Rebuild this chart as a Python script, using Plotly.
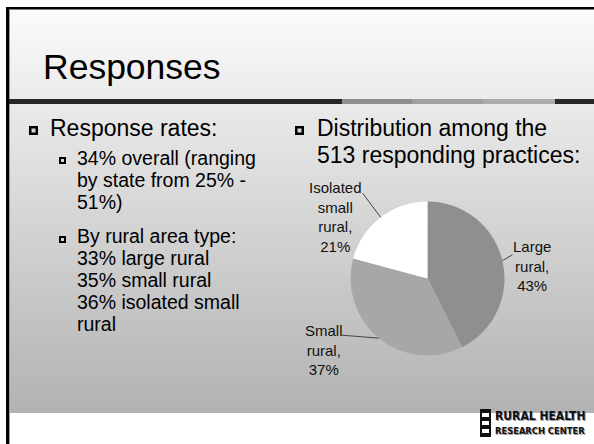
import math
import plotly.graph_objects as go

W, H = 594, 444

# ---------------- data ----------------
categories = ["Large rural", "Small rural", "Isolated small rural"]
shares = [43, 37, 21]
label_lines = ["Large<br>rural,", "Small<br>rural,", "Isolated<br>small<br>rural,"]
slice_colors = ["#8f8f8f", "#a7a7a7", "#ffffff"]

title_text = "Responses"
left_main = "Response rates:"
left_sub1 = ["34% overall (ranging", "by state from 25% -", "51%)"]
left_sub2 = ["By rural area type:", "33% large rural", "35% small rural",
             "36% isolated small", "rural"]
right_main = ["Distribution among the", "513 responding practices:"]
logo_lines = ["RURAL HEALTH", "RESEARCH CENTER"]

FONT = "Liberation Sans, Arial, sans-serif"


def X(px):
    return px / W


def Y(py):
    return 1 - py / H


shapes = []
annotations = []


def rect(x0, y0, x1, y1, color, layer="below"):
    shapes.append(dict(type="rect", xref="paper", yref="paper",
                       x0=X(x0), x1=X(x1), y0=Y(y1), y1=Y(y0),
                       fillcolor=color, line=dict(width=0), layer=layer))


def text(s, x, baseline, size, color="black", family=FONT, anchor="left"):
    f = dict(size=size, family=family, color=color)
    annotations.append(dict(xref="paper", yref="paper", x=X(x - 2),
                            y=Y(baseline - 0.34 * size), xanchor=anchor,
                            yanchor="middle", text=s, showarrow=False, font=f))


# ---------------- background ----------------
top, bottom = 9, 413
n = 101
for i in range(n):
    y0 = top + (bottom - top) * i / n
    y1 = top + (bottom - top) * (i + 1) / n + 0.6
    t = (i + 0.5) / n
    g = round(251 - (251 - 178) * t)
    rect(9, y0, W, min(y1, bottom), f"rgb({g},{g},{g})")

# frame
rect(6, 7, W, 9.5, "#000000")
rect(6, 7, 9, H, "#000000")
rect(9, 9, 10, H, "#9a9a9a")

# title bar
rect(9, 99, 342, 104, "#262626")
rect(342, 99, 412, 104, "#8e8e8e")
rect(412, 99, 483, 104, "#a0a0a0")
rect(483, 99, 555, 104, "#ababab")
rect(555, 99, W, 104, "#262626")


def bullet(x, y, s, inner):
    rect(x, y, x + s, y + s, "#000000")
    o = (s - inner) / 2
    rect(x + o, y + o, x + o + inner, y + o + inner, "#d8d8d8")


# ---------------- texts ----------------
text(title_text, 43, 79, 35.5)

bullet(29, 126, 9, 4)
text(left_main, 50, 136, 23)

bullet(59, 157, 7, 3)
for i, s in enumerate(left_sub1):
    text(s, 77, 165 + 22 * i, 19.5)
bullet(59, 236, 7, 3)
for i, s in enumerate(left_sub2):
    text(s, 77, 243 + 22 * i, 19.5)

bullet(295, 126, 9, 4)
for i, s in enumerate(right_main):
    text(s, 317, 136 + 27 * i, 23)

# ---------------- pie ----------------
cx, cy, r = 427.5, 278.5, 77
fig = go.Figure(go.Pie(
    labels=categories, values=shares, sort=False, direction="clockwise",
    rotation=0, textinfo="none", hoverinfo="label+percent",
    marker=dict(colors=slice_colors, line=dict(width=0)),
    domain=dict(x=[X(cx - r), X(cx + r)], y=[Y(cy + r), Y(cy - r)]),
    showlegend=False,
))

# label placement (offsets from the slice mid-point on the rim)
label_offsets = [(29.5, 5.5), (-55, 12), (-45, 0)]
leader_ends = [(10, -6), (-37, -3), (-18, -24)]
total = sum(shares)
cum = 0
for v, lab, (ox, oy), (lx, ly) in zip(shares, label_lines, label_offsets, leader_ends):
    mid = (cum + v / 2) / total * 2 * math.pi
    cum += v
    ax = cx + r * math.sin(mid)
    ay = cy - r * math.cos(mid)
    shapes.append(dict(type="line", xref="paper", yref="paper",
                       x0=X(ax), y0=Y(ay), x1=X(ax + lx), y1=Y(ay + ly),
                       line=dict(color="#444444", width=1), layer="above"))
    annotations.append(dict(xref="paper", yref="paper", x=X(ax + ox), y=Y(ay + oy),
                            xanchor="center", yanchor="middle",
                            text=f"{lab}<br>{v}%", showarrow=False,
                            font=dict(size=15, family=FONT, color="#111111")))

# ---------------- logo ----------------
rect(480, 409, 491, 437, "#111111", layer="above")
rect(482, 413, 489, 417, "#ffffff", layer="above")
rect(482, 421, 489, 425, "#ffffff", layer="above")
rect(482, 429, 489, 433, "#ffffff", layer="above")
NARROW = "DejaVu Sans Condensed, Liberation Sans Narrow, Liberation Sans, sans-serif"
annotations.append(dict(xref="paper", yref="paper", x=X(587), y=Y(416), xanchor="right",
                        yanchor="middle", text=f"<b>{logo_lines[0]}</b>", showarrow=False,
                        font=dict(size=12, family=NARROW, color="#111111",
                                  shadow="1px 1px 0px #999999")))
annotations.append(dict(xref="paper", yref="paper", x=X(587), y=Y(430.5), xanchor="right",
                        yanchor="middle", text=f"<b>{logo_lines[1]}</b>", showarrow=False,
                        font=dict(size=9.3, family=NARROW, color="#111111",
                                  shadow="1px 1px 0px #999999")))

fig.update_layout(
    width=W, height=H, margin=dict(l=0, r=0, t=0, b=0),
    paper_bgcolor="white", plot_bgcolor="white",
    shapes=shapes, annotations=annotations, showlegend=False,
)

fig.write_html("out.html")
